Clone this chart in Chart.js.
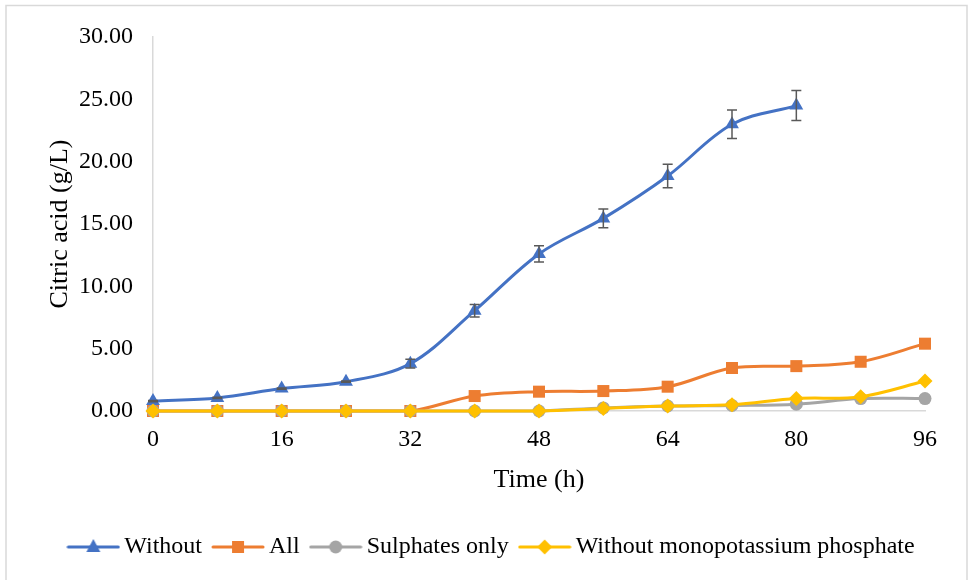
<!DOCTYPE html>
<html>
<head>
<meta charset="utf-8">
<script src="https://cdn.jsdelivr.net/npm/chart.js@4.4.1/dist/chart.umd.min.js"></script>
<style>
  html, body { margin: 0; padding: 0; background: #ffffff; }
  #wrap { width: 969px; height: 580px; position: relative; }
</style>
</head>
<body>
<div id="wrap"><canvas id="chart"></canvas></div>
<script>
// Sampling times (h)
const hours = [0, 8, 16, 24, 32, 40, 48, 56, 64, 72, 80, 88, 96];

// Citric acid concentration (g/L) per medium
const withoutVals   = [0.80, 1.05, 1.80, 2.35, 3.80, 8.05, 12.60, 15.45, 18.85, 23.00, 24.50];
const withoutErr    = [0.05, 0.05, 0.05, 0.05, 0.35, 0.50, 0.65, 0.75, 0.95, 1.15, 1.20];
const allVals       = [0, 0, 0, 0, 0, 1.20, 1.55, 1.60, 1.95, 3.45, 3.60, 3.95, 5.40];
const sulphateVals  = [0, 0, 0, 0, 0, 0, 0, 0.25, 0.40, 0.45, 0.55, 1.00, 1.00];
const noKH2PO4Vals  = [0, 0, 0, 0, 0, 0, 0, 0.20, 0.40, 0.50, 1.00, 1.15, 2.40];

const yTicks = [0, 5, 10, 15, 20, 25, 30];

const seriesNames = ['Without', 'All', 'Sulphates only', 'Without monopotassium phosphate'];
const seriesColors = ['#4472C4', '#ED7D31', '#A5A5A5', '#FFC000'];
const seriesMarkers = ['triangle', 'rect', 'circle', 'rectRot'];

const toPoints = vals => vals.map((v, i) => ({ x: hours[i], y: v }));

const FONT = "'Liberation Serif', 'Times New Roman', serif";

// Legend sample: short line with the series marker in the middle
function legendSample(color, marker) {
  const c = document.createElement('canvas');
  c.width = 54; c.height = 20;
  const g = c.getContext('2d');
  g.strokeStyle = color; g.lineWidth = 3; g.lineCap = 'round';
  g.beginPath(); g.moveTo(2, 10); g.lineTo(52, 10); g.stroke();
  g.fillStyle = color;
  const cx = 27, cy = 10;
  g.beginPath();
  if (marker === 'triangle') {
    g.moveTo(cx, cy - 8); g.lineTo(cx + 7, cy + 5); g.lineTo(cx - 7, cy + 5); g.closePath();
  } else if (marker === 'rect') {
    g.rect(cx - 6, cy - 6, 12, 12);
  } else if (marker === 'circle') {
    g.arc(cx, cy, 6.5, 0, Math.PI * 2);
  } else {
    g.moveTo(cx, cy - 7.5); g.lineTo(cx + 7.5, cy); g.lineTo(cx, cy + 7.5); g.lineTo(cx - 7.5, cy); g.closePath();
  }
  g.fill();
  return c;
}
const samples = seriesNames.map((n, i) => legendSample(seriesColors[i], seriesMarkers[i]));

// Outer frame around the figure
const framePlugin = {
  id: 'frame',
  beforeDraw(chart) {
    const ctx = chart.ctx;
    ctx.save();
    ctx.strokeStyle = '#d9d9d9';
    ctx.lineWidth = 1.5;
    ctx.strokeRect(6, 5.5, 961, 620);
    ctx.restore();
  }
};

// Centre the legend row under the whole figure rather than the padded box
const legendShiftPlugin = {
  id: 'legendShift',
  afterLayout(chart) {
    if (chart.legend) {
      chart.legend.left += 22;
      chart.legend.right += 22;
    }
  }
};

// Vertical error bars for the "Without" series
const errorBarPlugin = {
  id: 'errorBars',
  afterDatasetsDraw(chart) {
    const xs = chart.scales.x, ys = chart.scales.y;
    const ctx = chart.ctx;
    ctx.save();
    ctx.strokeStyle = '#595959';
    ctx.lineWidth = 1.5;
    withoutVals.forEach((v, i) => {
      const e = withoutErr[i];
      const px = xs.getPixelForValue(hours[i]);
      const top = ys.getPixelForValue(v + e);
      const bot = ys.getPixelForValue(v - e);
      ctx.beginPath();
      ctx.moveTo(px, top); ctx.lineTo(px, bot);
      ctx.moveTo(px - 5, top); ctx.lineTo(px + 5, top);
      ctx.moveTo(px - 5, bot); ctx.lineTo(px + 5, bot);
      ctx.stroke();
    });
    ctx.restore();
  }
};

const valueSets = [withoutVals, allVals, sulphateVals, noKH2PO4Vals];
const drawOrder = [3, 2, 1, 0];
const radii = [8, 8.5, 6.5, 7.5];

const datasets = valueSets.map((vals, i) => ({
  label: seriesNames[i],
  data: toPoints(vals),
  borderColor: seriesColors[i],
  backgroundColor: seriesColors[i],
  borderWidth: 3,
  pointStyle: seriesMarkers[i],
  pointRadius: radii[i],
  pointBorderWidth: 0,
  pointHoverRadius: radii[i],
  tension: 0.35,
  clip: false,
  order: drawOrder[i]
}));

new Chart(document.getElementById('chart'), {
  type: 'line',
  data: { datasets },
  options: {
    responsive: true,
    maintainAspectRatio: false,
    animation: false,
    layout: { padding: { left: 20, right: 44, top: 37, bottom: 11 } },
    plugins: {
      tooltip: { enabled: false },
      legend: {
        position: 'bottom',
        labels: {
          font: { family: FONT, size: 24 },
          color: '#000000',
          usePointStyle: true,
          pointStyleWidth: 38,
          padding: 17,
          generateLabels() {
            return seriesNames.map((n, i) => ({
              text: n,
              fillStyle: seriesColors[i],
              strokeStyle: seriesColors[i],
              pointStyle: samples[i],
              lineWidth: 0,
              hidden: false,
              datasetIndex: i
            }));
          }
        }
      }
    },
    scales: {
      x: {
        type: 'linear',
        min: 0,
        max: 96,
        grid: { display: false, drawTicks: false },
        border: { display: true, color: '#d9d9d9', width: 1.5 },
        ticks: {
          stepSize: 16,
          padding: 14,
          color: '#000000',
          font: { family: FONT, size: 24 }
        },
        title: {
          display: true,
          text: 'Time (h)',
          color: '#000000',
          font: { family: FONT, size: 26 },
          padding: { top: 10, bottom: 22 }
        },
        afterFit(scale) { scale.height = 107; }
      },
      y: {
        min: 0,
        max: 30,
        afterBuildTicks(scale) { scale.ticks = yTicks.map(v => ({ value: v })); },
        grid: { display: false, drawTicks: false },
        border: { display: true, color: '#d9d9d9', width: 1.5 },
        ticks: {
          padding: 20,
          color: '#000000',
          font: { family: FONT, size: 24 },
          callback: v => Number(v).toFixed(2)
        },
        title: {
          display: true,
          text: 'Citric acid (g/L)',
          color: '#000000',
          font: { family: FONT, size: 26 },
          padding: { top: 25, bottom: 10 }
        },
        afterFit(scale) { scale.width = 133; }
      }
    }
  },
  plugins: [framePlugin, legendShiftPlugin, errorBarPlugin]
});
</script>
</body>
</html>
